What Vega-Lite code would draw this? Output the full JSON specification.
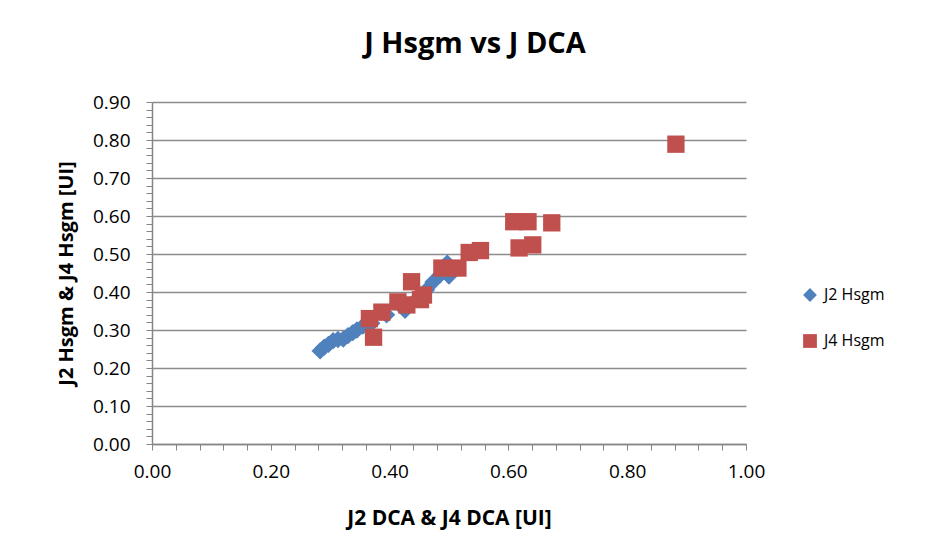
{
  "$schema": "https://vega.github.io/schema/vega-lite/v6.json",
  "autosize": {"type": "none"},
  "width": 594,
  "height": 342,
  "padding": {"left": 152, "top": 102, "right": 190, "bottom": 116},
  "background": "white",
  "title": {"text": "J Hsgm vs J DCA", "font": "Open Sans", "fontSize": 29, "fontWeight": "bold", "color": "#000000", "anchor": "middle", "dx": 26, "offset": 34},
  "config": {
    "view": {"stroke": null},
    "font": "Open Sans"
  },
  "data": {"values": [
    {"series": "J2 Hsgm", "dca": 0.283, "hsgm": 0.245},
    {"series": "J2 Hsgm", "dca": 0.290, "hsgm": 0.255},
    {"series": "J2 Hsgm", "dca": 0.297, "hsgm": 0.262},
    {"series": "J2 Hsgm", "dca": 0.305, "hsgm": 0.272},
    {"series": "J2 Hsgm", "dca": 0.313, "hsgm": 0.275},
    {"series": "J2 Hsgm", "dca": 0.322, "hsgm": 0.276},
    {"series": "J2 Hsgm", "dca": 0.330, "hsgm": 0.285},
    {"series": "J2 Hsgm", "dca": 0.338, "hsgm": 0.293},
    {"series": "J2 Hsgm", "dca": 0.345, "hsgm": 0.300},
    {"series": "J2 Hsgm", "dca": 0.355, "hsgm": 0.310},
    {"series": "J2 Hsgm", "dca": 0.370, "hsgm": 0.318},
    {"series": "J2 Hsgm", "dca": 0.395, "hsgm": 0.340},
    {"series": "J2 Hsgm", "dca": 0.426, "hsgm": 0.352},
    {"series": "J2 Hsgm", "dca": 0.445, "hsgm": 0.380},
    {"series": "J2 Hsgm", "dca": 0.462, "hsgm": 0.405},
    {"series": "J2 Hsgm", "dca": 0.473, "hsgm": 0.426},
    {"series": "J2 Hsgm", "dca": 0.485, "hsgm": 0.445},
    {"series": "J2 Hsgm", "dca": 0.497, "hsgm": 0.476},
    {"series": "J2 Hsgm", "dca": 0.500, "hsgm": 0.442},
    {"series": "J4 Hsgm", "dca": 0.366, "hsgm": 0.330},
    {"series": "J4 Hsgm", "dca": 0.373, "hsgm": 0.281},
    {"series": "J4 Hsgm", "dca": 0.387, "hsgm": 0.347},
    {"series": "J4 Hsgm", "dca": 0.414, "hsgm": 0.374},
    {"series": "J4 Hsgm", "dca": 0.429, "hsgm": 0.366},
    {"series": "J4 Hsgm", "dca": 0.437, "hsgm": 0.427},
    {"series": "J4 Hsgm", "dca": 0.457, "hsgm": 0.392},
    {"series": "J4 Hsgm", "dca": 0.452, "hsgm": 0.380},
    {"series": "J4 Hsgm", "dca": 0.488, "hsgm": 0.463},
    {"series": "J4 Hsgm", "dca": 0.515, "hsgm": 0.463},
    {"series": "J4 Hsgm", "dca": 0.534, "hsgm": 0.504},
    {"series": "J4 Hsgm", "dca": 0.553, "hsgm": 0.509},
    {"series": "J4 Hsgm", "dca": 0.609, "hsgm": 0.585},
    {"series": "J4 Hsgm", "dca": 0.633, "hsgm": 0.585},
    {"series": "J4 Hsgm", "dca": 0.673, "hsgm": 0.582},
    {"series": "J4 Hsgm", "dca": 0.618, "hsgm": 0.516},
    {"series": "J4 Hsgm", "dca": 0.641, "hsgm": 0.524},
    {"series": "J4 Hsgm", "dca": 0.882, "hsgm": 0.789}
  ]},
  "mark": {"type": "point", "filled": true, "opacity": 1, "size": 300},
  "encoding": {
    "x": {
      "field": "dca", "type": "quantitative",
      "scale": {"domain": [0, 1], "nice": false, "zero": true},
      "axis": {
        "title": "J2 DCA & J4 DCA [UI]",
        "titleFont": "Open Sans", "titleFontSize": 21, "titleFontWeight": "bold", "titleColor": "#000000", "titlePadding": 26,
        "values": [0, 0.04, 0.08, 0.12, 0.16, 0.2, 0.24, 0.28, 0.32, 0.36, 0.4, 0.44, 0.48, 0.52, 0.56, 0.6, 0.64, 0.68, 0.72, 0.76, 0.8, 0.84, 0.88, 0.92, 0.96, 1],
        "labelExpr": "abs(round(datum.value*5) - datum.value*5) < 0.001 ? format(datum.value, '.2f') : ''",
        "labelFont": "Open Sans", "labelFontSize": 19, "labelColor": "#000000", "labelPadding": 12,
        "labelOverlap": false, "labelFlush": false,
        "grid": false, "tickSize": 6, "tickColor": "#868686", "domainColor": "#868686", "domainWidth": 1.5, "tickWidth": 1
      }
    },
    "y": {
      "field": "hsgm", "type": "quantitative",
      "scale": {"domain": [0, 0.9], "nice": false, "zero": true},
      "axis": {
        "title": "J2 Hsgm & J4 Hsgm [UI]",
        "titleFont": "Open Sans", "titleFontSize": 20, "titleFontWeight": "bold", "titleColor": "#000000", "titlePadding": 16,
        "values": [0, 0.02, 0.04, 0.06, 0.08, 0.1, 0.12, 0.14, 0.16, 0.18, 0.2, 0.22, 0.24, 0.26, 0.28, 0.3, 0.32, 0.34, 0.36, 0.38, 0.4, 0.42, 0.44, 0.46, 0.48, 0.5, 0.52, 0.54, 0.56, 0.58, 0.6, 0.62, 0.64, 0.66, 0.68, 0.7, 0.72, 0.74, 0.76, 0.78, 0.8, 0.82, 0.84, 0.86, 0.88, 0.9],
        "labelExpr": "abs(round(datum.value*10) - datum.value*10) < 0.001 ? format(datum.value, '.2f') : ''",
        "labelFont": "Open Sans", "labelFontSize": 19, "labelColor": "#000000", "labelPadding": 16,
        "labelOverlap": false, "labelFlush": false,
        "grid": true, "gridColor": "#8c8c8c", "gridWidth": 1.5,
        "gridOpacity": {"condition": {"test": "abs(round(datum.value*10) - datum.value*10) < 0.001", "value": 1}, "value": 0},
        "tickSize": 6, "tickColor": "#868686", "domainColor": "#868686", "domainWidth": 1.5, "tickWidth": 1
      }
    },
    "color": {
      "field": "series", "type": "nominal",
      "scale": {"domain": ["J2 Hsgm", "J4 Hsgm"], "range": ["#4F81BD", "#C0504D"]},
      "legend": {
        "title": null, "orient": "none", "legendX": 650, "legendY": 185,
        "labelFont": "Open Sans", "labelFontSize": 16, "labelColor": "#000000",
        "symbolSize": 190, "symbolStrokeWidth": 0, "rowPadding": 30, "labelOffset": 6
      }
    },
    "shape": {
      "field": "series", "type": "nominal",
      "scale": {"domain": ["J2 Hsgm", "J4 Hsgm"], "range": ["diamond", "square"]},
      "legend": null
    }
  }
}
